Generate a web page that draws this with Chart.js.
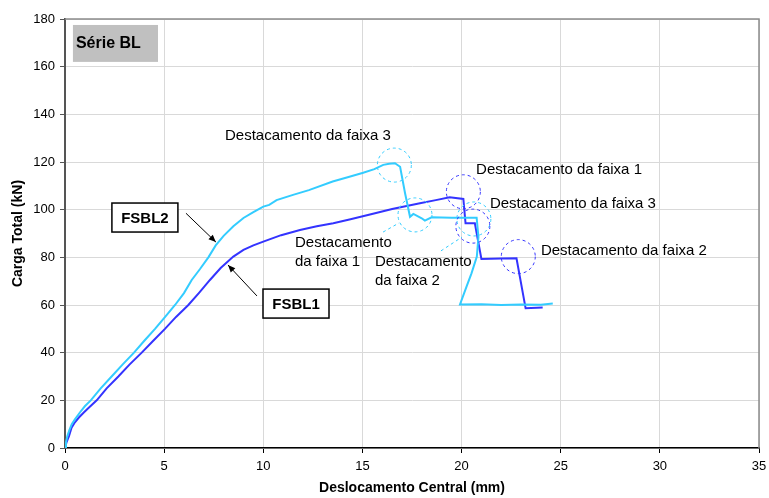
<!DOCTYPE html>
<html>
<head>
<meta charset="utf-8">
<script src="https://cdn.jsdelivr.net/npm/chart.js@4.4.0/dist/chart.umd.min.js"></script>
<style>
  html, body { margin: 0; padding: 0; background: #fff; }
</style>
</head>
<body>
<canvas id="chart" width="769" height="498"></canvas>
<script>
// FSBL2 (cyan)
const fsbl2X = [0, 0.05, 0.12, 0.22, 0.34, 0.5, 0.76, 1.0, 1.3, 1.8, 2.35, 2.9, 3.48, 4.0, 4.54, 5.05, 5.55, 6.0, 6.39, 6.8, 7.23, 7.6, 8.0, 8.49, 9.0, 9.5, 10.0, 10.3, 10.67, 11.5, 12.3, 13.5, 14.3, 15.04, 15.6, 16.05, 16.35, 16.64, 16.9, 17.15, 17.4, 17.57, 17.99, 18.15, 18.49, 19.5, 20.76, 20.85, 20.77, 20.5, 20.25, 19.92, 21.0, 22.0, 23.0, 24.0, 24.6]
const fsbl2Y = [0, 2.5, 5, 7.5, 10, 12, 15, 17.5, 20, 25, 30, 35, 40, 45, 50, 55, 60, 65, 70.5, 75, 80, 85, 89, 93, 96.5, 99, 101.3, 102, 104, 106.2, 108.2, 111.8, 113.7, 115.5, 117, 118.8, 119.3, 119.5, 118, 106.9, 97, 98.2, 96.4, 95.4, 96.8, 96.6, 96.6, 88.5, 80.3, 73.3, 67.7, 60.2, 60.3, 60.0, 60.2, 60.1, 60.6]

// FSBL1 (blue)
const fsbl1X = [0, 0.08, 0.2, 0.33, 0.5, 0.7, 0.96, 1.25, 1.6, 2.1, 2.69, 3.25, 3.87, 4.45, 5.04, 5.6, 6.22, 6.75, 7.31, 7.85, 8.49, 9.0, 9.5, 10.0, 10.9, 11.85, 12.7, 13.53, 14.4, 15.38, 16.5, 17.9, 18.7, 19.4, 20.09, 20.2, 20.67, 21.0, 22.0, 22.77, 23.23, 24.09]
const fsbl1Y = [0, 2.5, 5, 8.5, 10.8, 12.8, 15, 17.3, 20, 25, 30, 35, 40, 45, 50, 55, 60, 65, 70.5, 75.5, 80.3, 83.1, 85, 86.6, 89.3, 91.5, 93, 94.3, 96, 98, 100.3, 102.7, 104, 105.2, 104.5, 94.3, 94.3, 79.3, 79.5, 79.6, 58.6, 58.9]

const xTicks = [0, 5, 10, 15, 20, 25, 30, 35]
const yTicks = [0, 20, 40, 60, 80, 100, 120, 140, 160, 180]

const cyan = '#33ccff'
const blue = '#3333ff'
const font = '"Liberation Sans", Arial, sans-serif'

// annotations, in data units
const circles = [
    {x: 16.61, y: 118.7, color: cyan},
    {x: 17.65, y: 97.8, color: cyan},
    {x: 20.09, y: 107.5, color: blue},
    {x: 20.62, y: 96.1, color: cyan},
    {x: 20.57, y: 93.1, color: blue},
    {x: 22.86, y: 80.3, color: blue}
]
const leaders = [
    {x1: 16.04, y1: 90.6, x2: 16.84, y2: 94.4},
    {x1: 18.96, y1: 82.7, x2: 20.02, y2: 88.5}
]
const notes = [
    {x: 8.07, y: 130.9, lines: ['Destacamento da faixa 3']},
    {x: 20.73, y: 116.6, lines: ['Destacamento da faixa 1']},
    {x: 21.43, y: 102.4, lines: ['Destacamento da faixa 3']},
    {x: 24.0, y: 82.7, lines: ['Destacamento da faixa 2']},
    {x: 11.6, y: 86.0, lines: ['Destacamento', 'da faixa 1']},
    {x: 15.63, y: 78.0, lines: ['Destacamento', 'da faixa 2']}
]
const tags = [
    {text: 'FSBL2', x: 4.03, y: 96.7, ax1: 6.1, ay1: 98.5, ax2: 7.61, ay2: 86.4},
    {text: 'FSBL1', x: 11.65, y: 60.6, ax1: 9.68, ay1: 63.8, ax2: 8.22, ay2: 76.8}
]

const toPoints = (xs, ys) => xs.map((v, i) => ({x: v, y: ys[i]}))

const annotations = {
    id: 'annotations',
    afterDatasetsDraw(chart) {
        const {ctx, chartArea} = chart
        const sx = chart.scales.x, sy = chart.scales.y
        const px = v => sx.getPixelForValue(v)
        const py = v => sy.getPixelForValue(v)
        ctx.save()

        // frame top / right
        ctx.strokeStyle = '#8c8c8c'
        ctx.lineWidth = 1.5
        ctx.beginPath()
        ctx.moveTo(chartArea.left, chartArea.top)
        ctx.lineTo(chartArea.right, chartArea.top)
        ctx.lineTo(chartArea.right, chartArea.bottom)
        ctx.stroke()

        // Série BL
        const l = px(0.4), t = py(177.5)
        ctx.fillStyle = '#c0c0c0'
        ctx.fillRect(l, t, px(4.69) - l, py(162) - t)
        ctx.fillStyle = '#000'
        ctx.font = 'bold 16px ' + font
        ctx.textBaseline = 'middle'
        ctx.textAlign = 'left'
        ctx.fillText('Série BL', l + 3, t + 18.5)

        // dashed circles
        ctx.lineWidth = 1
        ctx.setLineDash([3, 3])
        circles.forEach(c => {
            ctx.strokeStyle = c.color
            ctx.beginPath()
            ctx.arc(px(c.x), py(c.y), 17, 0, Math.PI * 2)
            ctx.stroke()
        })
        ctx.strokeStyle = cyan
        leaders.forEach(d => {
            ctx.beginPath()
            ctx.moveTo(px(d.x1), py(d.y1))
            ctx.lineTo(px(d.x2), py(d.y2))
            ctx.stroke()
        })
        ctx.setLineDash([])

        // text notes
        ctx.font = '15px ' + font
        ctx.fillStyle = '#000'
        notes.forEach(n => {
            n.lines.forEach((s, i) => ctx.fillText(s, px(n.x), py(n.y) + i * 19))
        })

        // series tags with arrows
        tags.forEach(g => {
            const cx = px(g.x), cy = py(g.y)
            ctx.fillStyle = '#fff'
            ctx.fillRect(cx - 33, cy - 14.5, 66, 29)
            ctx.strokeStyle = '#000'
            ctx.lineWidth = 1.5
            ctx.strokeRect(cx - 33, cy - 14.5, 66, 29)
            ctx.fillStyle = '#000'
            ctx.font = 'bold 15px ' + font
            ctx.textAlign = 'center'
            ctx.fillText(g.text, cx, cy + 1)

            const x1 = px(g.ax1), y1 = py(g.ay1), x2 = px(g.ax2), y2 = py(g.ay2)
            const ang = Math.atan2(y2 - y1, x2 - x1)
            ctx.lineWidth = 1
            ctx.beginPath()
            ctx.moveTo(x1, y1)
            ctx.lineTo(x2, y2)
            ctx.stroke()
            ctx.beginPath()
            ctx.moveTo(x2, y2)
            ctx.lineTo(x2 - 8 * Math.cos(ang - 0.4), y2 - 8 * Math.sin(ang - 0.4))
            ctx.lineTo(x2 - 8 * Math.cos(ang + 0.4), y2 - 8 * Math.sin(ang + 0.4))
            ctx.closePath()
            ctx.fill()
            ctx.textAlign = 'left'
        })
        ctx.restore()
    }
}

const config = {
    type: 'scatter',
    data: {
        datasets: [
            {
                label: 'FSBL2',
                data: toPoints(fsbl2X, fsbl2Y),
                showLine: true,
                borderColor: cyan,
                borderWidth: 2,
                pointRadius: 0,
                tension: 0
            },
            {
                label: 'FSBL1',
                data: toPoints(fsbl1X, fsbl1Y),
                showLine: true,
                borderColor: blue,
                borderWidth: 2,
                pointRadius: 0,
                tension: 0
            }
        ]
    },
    options: {
        responsive: false,
        animation: false,
        layout: {padding: {left: 0, right: 10, top: 19, bottom: 0}},
        plugins: {
            legend: {display: false},
            tooltip: {enabled: false}
        },
        scales: {
            x: {
                type: 'linear',
                min: 0,
                max: 35,
                afterBuildTicks: s => { s.ticks = xTicks.map(v => ({value: v})) },
                afterFit: s => { s.height = 50; s.paddingLeft = 0; s.paddingRight = 0 },
                ticks: {color: '#000', font: {family: font, size: 13}, padding: 6, maxRotation: 0},
                grid: {color: '#d9d9d9', tickColor: '#000', tickLength: 5},
                border: {color: '#000', width: 1.5},
                title: {
                    display: true,
                    text: 'Deslocamento Central (mm)',
                    color: '#000',
                    font: {family: font, size: 14, weight: 'bold'},
                    padding: {top: 0, bottom: 1}
                }
            },
            y: {
                min: 0,
                max: 180,
                afterBuildTicks: s => { s.ticks = yTicks.map(v => ({value: v})) },
                afterFit: s => { s.width = 65; s.paddingTop = 0; s.paddingBottom = 0 },
                ticks: {color: '#000', font: {family: font, size: 13}, padding: 5},
                grid: {color: '#d9d9d9', tickColor: '#555', tickLength: 5},
                border: {color: '#555', width: 2},
                title: {
                    display: true,
                    text: 'Carga Total (kN)',
                    color: '#000',
                    font: {family: font, size: 14, weight: 'bold'},
                    padding: {top: 10, bottom: 0}
                }
            }
        }
    },
    plugins: [annotations]
}

const chart = new Chart(document.getElementById('chart'), config)
</script>
</body>
</html>
